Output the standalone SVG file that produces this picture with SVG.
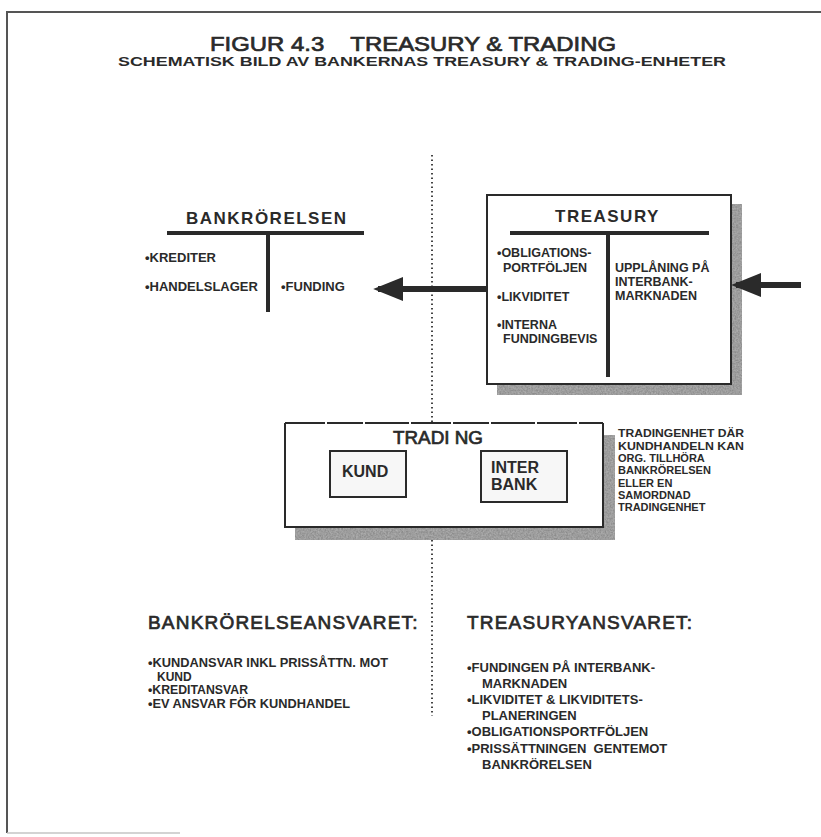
<svg xmlns="http://www.w3.org/2000/svg" width="821" height="837" viewBox="0 0 821 837">
<style>
text{font-family:"Liberation Sans",Arial,sans-serif;font-weight:bold;fill:#2a2a2a;white-space:pre}
.t13{font-size:13px}
.t12{font-size:12.5px}
.tb{font-size:12px}
.tn{font-size:11px}
.hd{font-size:17px;letter-spacing:1.5px}
.big{font-size:19px;letter-spacing:1.2px;font-weight:normal;stroke:#2a2a2a;stroke-width:0.7}
.thick{font-weight:normal;stroke:#2a2a2a;stroke-width:0.7}
.bar{stroke:#2a2a2a;stroke-width:4;fill:none}
.box{fill:#fff;stroke:#2a2a2a;stroke-width:2}
.shadow{fill:#8c8c8c;filter:url(#mottle)}
.dot{stroke:#444;stroke-width:2;stroke-dasharray:1.5,3;fill:none}
.arrow{stroke:#2a2a2a;stroke-width:6;fill:none}
</style>
<defs>
<marker id="ah" markerWidth="5" markerHeight="4" refX="4.2" refY="2" orient="auto" markerUnits="strokeWidth">
<path d="M0,0 L5,2 L0,4 z" fill="#2a2a2a"/>
</marker>
<filter id="mottle" x="0" y="0" width="100%" height="100%">
<feTurbulence type="fractalNoise" baseFrequency="0.6" numOctaves="2" seed="3" result="n"/>
<feColorMatrix in="n" type="matrix" values="0 0 0 0 0.45  0 0 0 0 0.45  0 0 0 0 0.45  0 0 0 1.4 -0.3" result="m"/>
<feComposite in="m" in2="SourceGraphic" operator="in" result="t"/>
<feMerge><feMergeNode in="SourceGraphic"/><feMergeNode in="t"/></feMerge>
</filter>
</defs>
<rect width="821" height="837" fill="#fff"/>
<g id="frame">
<path d="M7,833 V12 H821" stroke="#555" stroke-width="2" fill="none"/>
<path d="M7,833 H180" stroke="#c4c4c4" stroke-width="1.5" fill="none"/>
</g>
<g id="title">
<text class="thick" x="413" y="51" text-anchor="middle" style="font-size:21px" textLength="406" lengthAdjust="spacingAndGlyphs">FIGUR 4.3    TREASURY &amp; TRADING</text>
<text x="422" y="66" text-anchor="middle" style="font-size:13.5px" textLength="608" lengthAdjust="spacingAndGlyphs">SCHEMATISK BILD AV BANKERNAS TREASURY &amp; TRADING-ENHETER</text>
</g>
<g id="divider">
<line class="dot" x1="432" y1="155" x2="432" y2="422"/>
<line class="dot" x1="432" y1="540" x2="432" y2="716"/>
</g>
<g id="bankrorelsen">
<text class="hd" x="186" y="224">BANKRÖRELSEN</text>
<line class="bar" x1="167" y1="233" x2="364" y2="233"/>
<line class="bar" x1="268" y1="233" x2="268" y2="312"/>
<text class="t13" x="145" y="262">•KREDITER</text>
<text class="t13" x="145" y="291">•HANDELSLAGER</text>
<text class="t13" x="281" y="291">•FUNDING</text>
</g>
<g id="treasury">
<rect class="shadow" x="497" y="204" width="245" height="191"/>
<rect class="box" x="487" y="195" width="244" height="189"/>
<text class="hd" x="555" y="222">TREASURY</text>
<line class="bar" x1="510" y1="233" x2="709" y2="233"/>
<line class="bar" x1="608" y1="233" x2="608" y2="377"/>
<text class="t12" x="497" y="257">•OBLIGATIONS-</text>
<text class="t12" x="503" y="272">PORTFÖLJEN</text>
<text class="t12" x="497" y="301">•LIKVIDITET</text>
<text class="t12" x="497" y="329">•INTERNA</text>
<text class="t12" x="503" y="343">FUNDINGBEVIS</text>
<text class="t12" x="615" y="272">UPPLÅNING PÅ</text>
<text class="t12" x="615" y="286">INTERBANK-</text>
<text class="t12" x="615" y="300">MARKNADEN</text>
</g>
<g id="trading">
<rect class="shadow" x="295" y="435" width="320" height="105"/>
<rect x="285" y="423" width="318" height="104" fill="#fff"/>
<path d="M285,423 V527 H603 V423" stroke="#2a2a2a" stroke-width="2" fill="none"/>
<path d="M285,423 H603" stroke="#2a2a2a" stroke-width="2" stroke-dasharray="40,2,36,2,44,2" fill="none"/>
<text class="thick" x="393" y="444" style="font-size:18px" textLength="90" lengthAdjust="spacingAndGlyphs">TRADI NG</text>
</g>
<g id="kund">
<rect class="box" x="330" y="451" width="76" height="46" style="fill:#f7f7f7"/>
<text x="342" y="477" style="font-size:16px">KUND</text>
</g>
<g id="interbank">
<rect class="box" x="481" y="451" width="86" height="51" style="fill:#f7f7f7"/>
<text x="491" y="473" style="font-size:16px">INTER</text>
<text x="491" y="490" style="font-size:16px">BANK</text>
</g>
<g id="trading-note">
<text class="tn" x="618" y="437" textLength="126" lengthAdjust="spacingAndGlyphs">TRADINGENHET DÄR</text>
<text class="tn" x="618" y="449.5" textLength="126" lengthAdjust="spacingAndGlyphs">KUNDHANDELN KAN</text>
<text class="tn" x="618" y="462">ORG. TILLHÖRA</text>
<text class="tn" x="618" y="474">BANKRÖRELSEN</text>
<text class="tn" x="618" y="486.5">ELLER EN</text>
<text class="tn" x="618" y="499">SAMORDNAD</text>
<text class="tn" x="618" y="511">TRADINGENHET</text>
</g>
<g id="connectors">
<line class="arrow" x1="486" y1="289" x2="378" y2="289" marker-end="url(#ah)"/>
<line class="arrow" x1="801" y1="285" x2="736" y2="285" marker-end="url(#ah)"/>
</g>
<g id="bank-ansvar">
<text class="big" x="148" y="629">BANKRÖRELSEANSVARET:</text>
<text class="tb" x="148" y="667" textLength="240" lengthAdjust="spacingAndGlyphs">•KUNDANSVAR INKL PRISSÅTTN. MOT</text>
<text class="tb" x="157" y="680.5">KUND</text>
<text class="tb" x="148" y="694" textLength="100" lengthAdjust="spacingAndGlyphs">•KREDITANSVAR</text>
<text class="tb" x="148" y="707.5" textLength="202" lengthAdjust="spacingAndGlyphs">•EV ANSVAR FÖR KUNDHANDEL</text>
</g>
<g id="treasury-ansvar">
<text class="big" x="467" y="629">TREASURYANSVARET:</text>
<text class="t13" x="467" y="672">•FUNDINGEN PÅ INTERBANK-</text>
<text class="t13" x="482" y="688">MARKNADEN</text>
<text class="t13" x="467" y="704">•LIKVIDITET &amp; LIKVIDITETS-</text>
<text class="t13" x="482" y="720">PLANERINGEN</text>
<text class="t13" x="467" y="736">•OBLIGATIONSPORTFÖLJEN</text>
<text class="t13" x="467" y="753">•PRISSÄTTNINGEN  GENTEMOT</text>
<text class="t13" x="482" y="769">BANKRÖRELSEN</text>
</g>
</svg>
